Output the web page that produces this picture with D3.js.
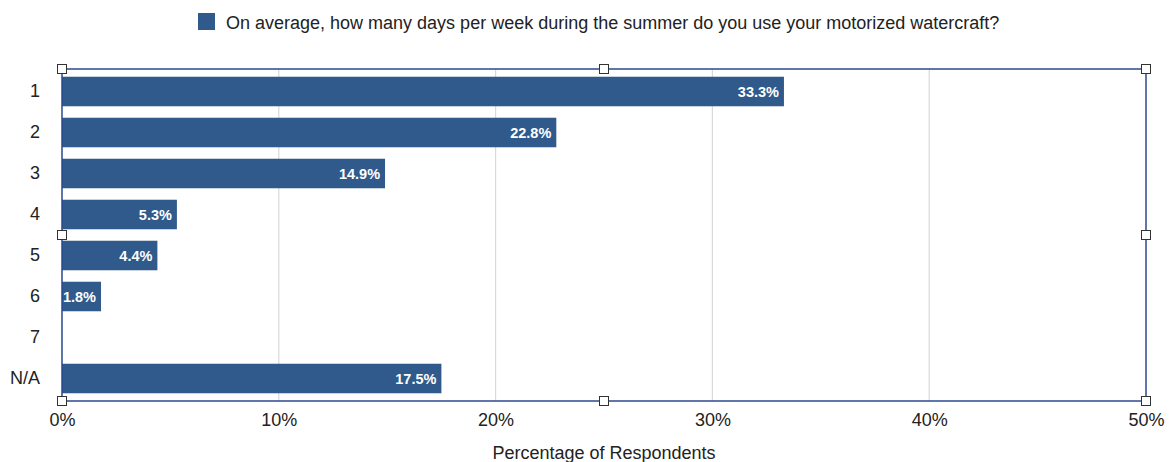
<!DOCTYPE html>
<html><head><meta charset="utf-8">
<script src="https://cdn.jsdelivr.net/npm/d3@7"></script>
<style>
body{margin:0;background:#fff;}
text{font-family:"Liberation Sans",Arial,Helvetica,sans-serif;}
</style></head>
<body><svg id="c" width="1170" height="462"></svg>
<script>
const categories = ["1","2","3","4","5","6","7","N/A"];
const values = [33.3, 22.8, 14.9, 5.3, 4.4, 1.8, 0, 17.5];
const valueLabels = ["33.3%","22.8%","14.9%","5.3%","4.4%","1.8%","","17.5%"];
const xTicks = [0,10,20,30,40,50];
const legendLabel = "On average, how many days per week during the summer do you use your motorized watercraft?";
const axisTitle = "Percentage of Respondents";

const svg = d3.select("#c");
const L = 62, R = 1146, T = 69, B = 401;
const barColor = "#2f5a8b", borderColor = "#2a4a8f";

const x = d3.scaleLinear().domain([0,50]).range([L,R]);
const y = d3.scaleBand().domain(categories).range([71,399]).paddingInner(0.28).paddingOuter(0.14);

// gridlines
svg.append("g").selectAll("line").data(xTicks.slice(1,-1)).join("line")
  .attr("x1",d=>x(d)).attr("x2",d=>x(d)).attr("y1",T).attr("y2",B)
  .attr("stroke","#d9d9d9").attr("stroke-width",1.2);

// bars
svg.append("g").selectAll("rect").data(categories).join("rect")
  .attr("x",L).attr("y",d=>y(d))
  .attr("width",(d,i)=>x(values[i])-L).attr("height",y.bandwidth())
  .attr("fill",barColor);

// value labels
svg.append("g").selectAll("text").data(categories).join("text")
  .attr("x",(d,i)=>x(values[i])-5).attr("y",d=>y(d)+y.bandwidth()/2)
  .attr("dy","0.36em").attr("text-anchor","end")
  .attr("fill","#fff").attr("font-size",14.5).attr("font-weight","bold")
  .text((d,i)=>valueLabels[i]);

// plot border
svg.append("rect").attr("x",L).attr("y",T).attr("width",R-L).attr("height",B-T)
  .attr("fill","none").attr("stroke",borderColor).attr("stroke-width",1.5);

// category axis labels
const yAxis = d3.axisLeft(y).tickSize(0).tickPadding(22);
const gy = svg.append("g").attr("transform",`translate(${L},0)`).call(yAxis);
gy.select(".domain").remove();
gy.selectAll("text").attr("font-size",18).attr("fill","#222").style("font-family","'Liberation Sans',Arial,sans-serif");

// x axis
const xAxis = d3.axisBottom(x).tickValues(xTicks).tickFormat(d=>d+"%").tickSize(0).tickPadding(12);
const gx = svg.append("g").attr("transform",`translate(0,${B})`).call(xAxis);
gx.select(".domain").remove();
gx.selectAll("text").attr("font-size",18).attr("fill","#222").style("font-family","'Liberation Sans',Arial,sans-serif");

// axis title
svg.append("text").attr("x",(L+R)/2).attr("y",459).attr("text-anchor","middle")
  .attr("font-size",18).attr("fill","#222").text(axisTitle);

// legend
svg.append("rect").attr("x",198).attr("y",13).attr("width",17).attr("height",17).attr("fill",barColor);
svg.append("text").attr("x",226).attr("y",28.5).attr("font-size",18).attr("fill","#222").text(legendLabel);

// selection handles
const hx = [L,(L+R)/2,R], hy = [T,(T+B)/2,B];
const handles = [];
hx.forEach(a=>hy.forEach(b=>{ if(!(a===(L+R)/2 && b===(T+B)/2)) handles.push([a,b]); }));
svg.append("g").selectAll("rect").data(handles).join("rect")
  .attr("x",d=>d[0]-4.5).attr("y",d=>d[1]-4.5).attr("width",9).attr("height",9)
  .attr("fill","#fff").attr("stroke","#333").attr("stroke-width",1);
</script></body></html>
